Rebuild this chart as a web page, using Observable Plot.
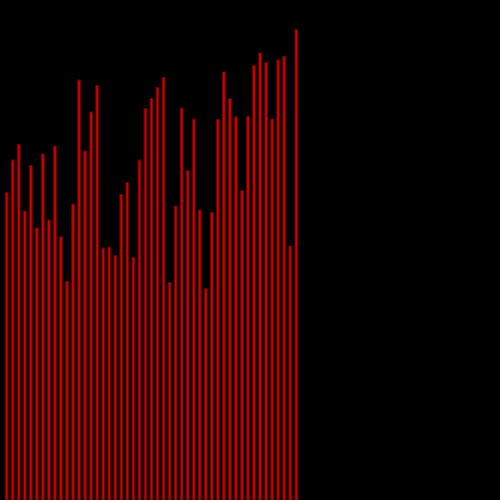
<!DOCTYPE html>
<html>
<head>
<meta charset="utf-8">
<script src="https://cdn.jsdelivr.net/npm/d3@7"></script>
<script src="https://cdn.jsdelivr.net/npm/@observablehq/plot@0.6"></script>
<style>
  html, body { margin: 0; padding: 0; background: #000; }
  #chart svg { display: block; }
</style>
</head>
<body>
<div id="chart"></div>
<script>
const categories = d3.range(49).map(i => `B${i + 1}`);
const values = [
  61.5, 68, 71.1, 57.8, 66.9, 54.4, 69.2, 56, 70.8, 52.7,
  43.7, 59.2, 84, 69.8, 77.6, 82.9, 50.4, 50.6, 48.9, 61.1,
  63.5, 48.5, 68, 78.3, 80.3, 82.5, 84.5, 43.5, 58.8, 78.4,
  65.9, 76.2, 58, 42.3, 57.5, 76.1, 85.6, 80.3, 76.6, 61.9,
  76.7, 86.9, 89.4, 87.5, 76.2, 88, 88.7, 50.8, 94.1
];
const data = categories.map((c, i) => ({ category: c, value: values[i] }));

const chart = Plot.plot({
  width: 500,
  height: 500,
  margin: 0,
  style: { background: "#000" },
  x: { type: "band", domain: categories, range: [3.5, 299.5], paddingInner: 0.55, paddingOuter: 0.3, round: false, axis: null },
  y: { domain: [0, 100], range: [500, 0], axis: null },
  marks: [
    Plot.barY(data, {
      x: "category",
      y: "value",
      fill: "#d40000",
      stroke: "#6a0000",
      strokeWidth: 1
    })
  ]
});
document.getElementById("chart").appendChild(chart);
</script>
</body>
</html>
